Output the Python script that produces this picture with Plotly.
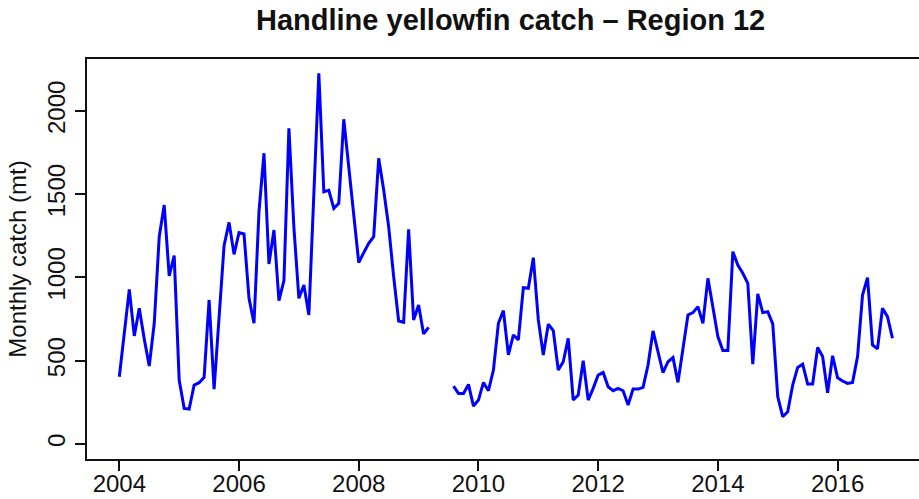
import plotly.graph_objects as go

# Monthly handline yellowfin catch (metric tonnes), Region 12
start_year = 2004

# Jan 2004 - Mar 2009
catch_2004_2009 = [
    404, 659, 929, 649, 815, 631, 468, 725, 1245, 1435, 1009, 1131,
    384, 214, 210, 354, 368, 400, 865, 330, 765, 1191, 1331, 1139,
    1269, 1261, 875, 725, 1395, 1746, 1081, 1285, 861, 981, 1896, 1300,
    875, 955, 775, 1465, 2226, 1515, 1523, 1415, 1445, 1950, 1656, 1375,
    1089, 1149, 1205, 1245, 1716, 1525, 1305, 1005, 739, 731, 1289, 745,
    835, 661, 701,
]

# Apr - Jul 2009: no data reported
missing_months = 4

# Aug 2009 - Dec 2016
catch_2009_2016 = [
    348, 304, 304, 358, 228,
    264, 370, 320, 444, 725, 801, 535, 655, 625, 939, 935, 1119, 745,
    535, 719, 681, 444, 494, 635, 264, 294, 500, 264, 334, 414,
    430, 344, 320, 334, 320, 234, 330, 330, 340, 474, 679, 554,
    428, 494, 519, 370, 575, 775, 789, 825, 725, 995, 821, 645,
    561, 561, 1155, 1075, 1025, 965, 480, 901, 789, 795, 721, 284,
    164, 194, 354, 460, 480, 360, 360, 580, 525, 308, 530, 398,
    378, 364, 370, 525, 895, 999, 595, 571, 815, 765, 635,
]

year_ticks = [2004, 2006, 2008, 2010, 2012, 2014, 2016]
catch_ticks = [0, 500, 1000, 1500, 2000]

monthly_catch = catch_2004_2009 + [None] * missing_months + catch_2009_2016
time = [start_year + i / 12 for i in range(len(monthly_catch))]

font_family = "Liberation Sans, Arial, Helvetica, sans-serif"
ink = "#111111"

fig = go.Figure(
    go.Scatter(
        x=time,
        y=monthly_catch,
        mode="lines",
        line=dict(color="#0000FF", width=3),
        connectgaps=False,
        hoverinfo="x+y",
    )
)

axis_common = dict(
    showgrid=False,
    zeroline=False,
    showline=True,
    linecolor=ink,
    linewidth=2,
    ticks="outside",
    ticklen=10,
    tickwidth=2,
    tickcolor=ink,
    tickfont=dict(family=font_family, size=24, color=ink),
)

fig.update_layout(
    width=919,
    height=499,
    margin=dict(l=87, r=0, t=59, b=40),
    paper_bgcolor="white",
    plot_bgcolor="white",
    showlegend=False,
    font=dict(family=font_family, color=ink),
    xaxis=dict(
        range=[2003.46, 2017.36],
        tickvals=year_ticks,
        ticktext=[str(y) for y in year_ticks],
        mirror=True,
        ticklabelstandoff=-8,
        **axis_common,
    ),
    yaxis=dict(
        range=[-90, 2312],
        tickvals=catch_ticks,
        ticktext=[str(v) for v in catch_ticks],
        tickangle=-90,
        title=dict(text="Monthly catch (mt)", font=dict(family=font_family, size=24, color=ink), standoff=10),
        **axis_common,
    ),
    annotations=[
        dict(
            text="<b>Handline yellowfin catch \u2013 Region 12</b>",
            xref="paper", yref="paper",
            x=(510 - 87) / 832, y=1 + (59 - 20) / 400,
            xanchor="center", yanchor="middle",
            showarrow=False,
            font=dict(family=font_family, size=29, color=ink),
        )
    ],
)

fig.write_html("out.html")
